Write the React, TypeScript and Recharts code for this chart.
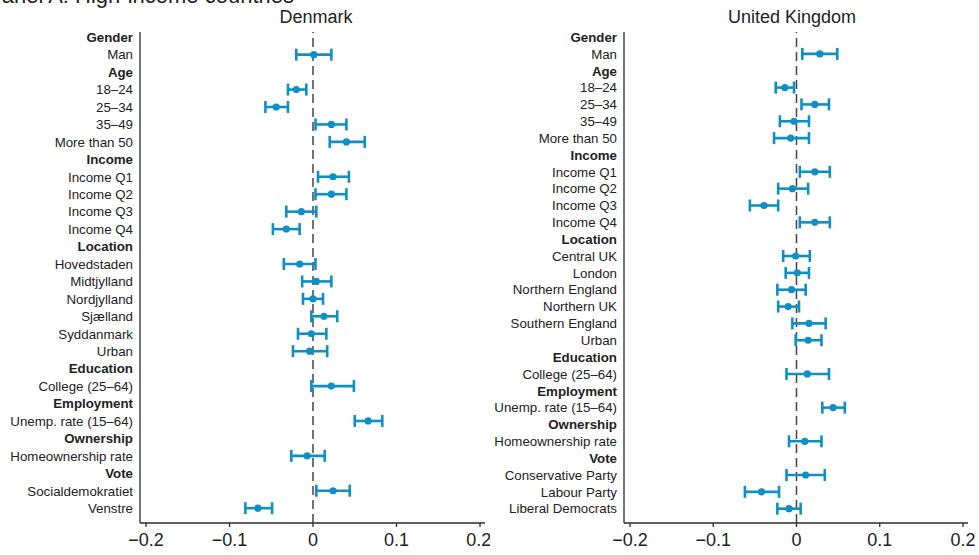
import {
  ScatterChart,
  Scatter,
  XAxis,
  YAxis,
  ErrorBar,
  ReferenceLine,
} from "recharts";

// row labels, top to bottom; null coefficients mark group headers
const HEADERS = ["Gender", "Age", "Income", "Location", "Education", "Employment", "Ownership", "Vote"];

const DK_ROWS = [
  "Gender", "Man", "Age", "18–24", "25–34", "35–49", "More than 50",
  "Income", "Income Q1", "Income Q2", "Income Q3", "Income Q4",
  "Location", "Hovedstaden", "Midtjylland", "Nordjylland", "Sjælland", "Syddanmark", "Urban",
  "Education", "College (25–64)", "Employment", "Unemp. rate (15–64)",
  "Ownership", "Homeownership rate", "Vote", "Socialdemokratiet", "Venstre",
];
const DK_COEF = [
  null, 0.001, null, -0.020, -0.044, 0.022, 0.040,
  null, 0.024, 0.022, -0.014, -0.032,
  null, -0.016, 0.004, 0.0, 0.013, -0.002, -0.004,
  null, 0.022, null, 0.066,
  null, -0.007, null, 0.024, -0.066,
];
const DK_LOW = [
  null, -0.020, null, -0.030, -0.057, 0.003, 0.020,
  null, 0.006, 0.003, -0.032, -0.048,
  null, -0.035, -0.013, -0.012, -0.002, -0.018, -0.024,
  null, -0.002, null, 0.050,
  null, -0.026, null, 0.004, -0.081,
];
const DK_HIGH = [
  null, 0.022, null, -0.008, -0.030, 0.040, 0.062,
  null, 0.043, 0.040, 0.004, -0.016,
  null, 0.003, 0.022, 0.012, 0.029, 0.016, 0.017,
  null, 0.049, null, 0.083,
  null, 0.014, null, 0.044, -0.049,
];

const UK_ROWS = [
  "Gender", "Man", "Age", "18–24", "25–34", "35–49", "More than 50",
  "Income", "Income Q1", "Income Q2", "Income Q3", "Income Q4",
  "Location", "Central UK", "London", "Northern England", "Northern UK", "Southern England", "Urban",
  "Education", "College (25–64)", "Employment", "Unemp. rate (15–64)",
  "Ownership", "Homeownership rate", "Vote", "Conservative Party", "Labour Party", "Liberal Democrats",
];
const UK_COEF = [
  null, 0.028, null, -0.014, 0.022, -0.003, -0.007,
  null, 0.022, -0.005, -0.039, 0.022,
  null, -0.001, 0.001, -0.006, -0.010, 0.015, 0.014,
  null, 0.013, null, 0.044,
  null, 0.010, null, 0.011, -0.042, -0.009,
];
const UK_LOW = [
  null, 0.007, null, -0.025, 0.006, -0.020, -0.027,
  null, 0.004, -0.022, -0.056, 0.004,
  null, -0.016, -0.013, -0.023, -0.022, -0.005, -0.001,
  null, -0.012, null, 0.031,
  null, -0.009, null, -0.012, -0.062, -0.023,
];
const UK_HIGH = [
  null, 0.049, null, -0.003, 0.039, 0.015, 0.015,
  null, 0.040, 0.014, -0.022, 0.040,
  null, 0.016, 0.015, 0.011, 0.003, 0.035, 0.030,
  null, 0.039, null, 0.058,
  null, 0.030, null, 0.034, -0.021, 0.005,
];

const X_TICKS = [-0.2, -0.1, 0, 0.1, 0.2];

const BLUE = "#0f8fc3";
const INK = "#2b2b2b";
const FONT = '"Liberation Sans", Arial, Helvetica, sans-serif';

function buildRows(rows: string[], coef: (number | null)[], low: (number | null)[], high: (number | null)[]) {
  const out: { row: number; coef: number; err: number[] }[] = [];
  rows.forEach((_, i) => {
    const c = coef[i];
    if (c == null) return;
    out.push({ row: i, coef: c, err: [c - (low[i] as number), (high[i] as number) - c] });
  });
  return out;
}

function RowTick(props: any) {
  const { x, y, payload, labels } = props;
  const label = labels[payload.value];
  const bold = HEADERS.includes(label);
  return (
    <text x={x} y={y} dy="0.36em" textAnchor="end" fontSize={13.3} fontWeight={bold ? 700 : 400} fill="#222">
      {label}
    </text>
  );
}

const fmtX = (v: number) => (v < 0 ? "−" + Math.abs(v) : String(v));

function Panel({ rows, data, width, yWidth, right }: {
  rows: string[];
  data: { row: number; coef: number; err: number[] }[];
  width: number;
  yWidth: number;
  right: number;
}) {
  const n = rows.length;
  return (
    <ScatterChart width={width} height={555} margin={{ top: 32, right, bottom: 0, left: 0 }}>
      <XAxis
        type="number"
        dataKey="coef"
        domain={[-0.2072, 0.206]}
        ticks={X_TICKS}
        tickFormatter={fmtX}
        allowDataOverflow
        height={32}
        tickSize={4}
        tickMargin={6}
        stroke={INK}
        strokeWidth={1.3}
        tick={{ fontSize: 18, fill: "#222" }}
      />
      <YAxis
        type="number"
        dataKey="row"
        reversed
        domain={[-0.3, n - 1 + 0.85]}
        ticks={rows.map((_, i) => i)}
        interval={0}
        allowDataOverflow
        width={yWidth}
        tickLine={false}
        tickSize={0}
        tickMargin={7}
        stroke={INK}
        strokeWidth={1.3}
        tick={(p: any) => <RowTick {...p} labels={rows} />}
      />
      <ReferenceLine x={0} stroke="#444" strokeWidth={1.5} strokeDasharray="9 5" />
      <Scatter
        data={data}
        isAnimationActive={false}
        shape={(p: any) => <circle cx={p.cx} cy={p.cy} r={3.6} fill={BLUE} />}
      >
        <ErrorBar dataKey="err" direction="x" width={6} stroke={BLUE} strokeWidth={2.6} />
      </Scatter>
    </ScatterChart>
  );
}

export default function App() {
  const dk = buildRows(DK_ROWS, DK_COEF, DK_LOW, DK_HIGH);
  const uk = buildRows(UK_ROWS, UK_COEF, UK_LOW, UK_HIGH);
  return (
    <div style={{ position: "absolute", left: 0, top: 0, width: 979, height: 555, background: "#fff", fontFamily: FONT, overflow: "hidden" }}>
      <div style={{ position: "absolute", left: 0, top: 0 }}>
        <Panel rows={DK_ROWS} data={dk} width={490} yWidth={140} right={5} />
      </div>
      <div style={{ position: "absolute", left: 490, top: 0 }}>
        <Panel rows={UK_ROWS} data={uk} width={489} yWidth={134} right={11} />
      </div>
      <svg width={979} height={555} style={{ position: "absolute", left: 0, top: 0, pointerEvents: "none" }}>
        <text x={-13} y={3} fontSize={22} fill="#222">Panel A: High-income countries</text>
        <text x={316} y={23} fontSize={18} textAnchor="middle" fill="#222">Denmark</text>
        <text x={792} y={23} fontSize={18} textAnchor="middle" fill="#222">United Kingdom</text>
      </svg>
    </div>
  );
}
